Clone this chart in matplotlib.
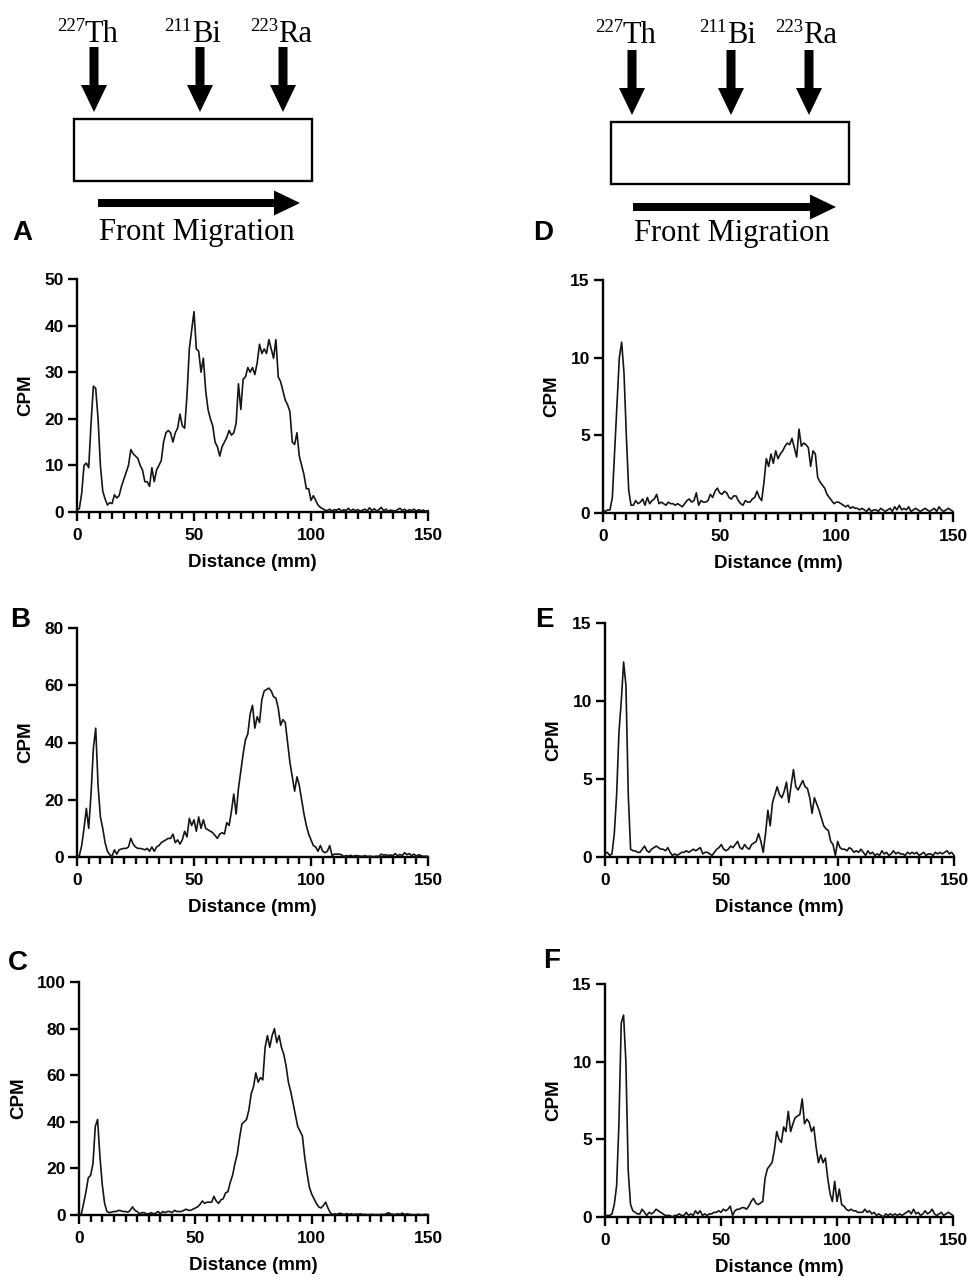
import numpy as np
import matplotlib
matplotlib.use('Agg')
import matplotlib.pyplot as plt
from matplotlib.patches import FancyArrow, Rectangle
from matplotlib.ticker import MultipleLocator

# ---------------- data (CPM vs distance, 1 mm steps, 0..150 mm) ----------------
cpm_A = [0.5, 0.7, 4, 10, 10.5, 9.5, 19, 27, 26.5, 20,
         10, 4.5, 2.8, 1.5, 2, 1.8, 3.7, 3, 3.5, 5.5,
         7, 8.5, 10, 13.4, 12.5, 12, 11.5, 10, 9, 6.5,
         6.5, 5.5, 9.5, 6.5, 9, 10, 11, 15, 17, 17.5,
         17, 15, 17, 18, 21, 18.5, 18, 25, 35, 39,
         43, 35, 34.5, 30, 33, 26, 22, 20, 18.5, 15,
         14, 12, 14, 15, 16, 17.5, 16.5, 17, 19, 27.5,
         22, 28.5, 29, 31, 30, 31, 29.5, 32, 36, 34,
         35, 34, 37, 35, 33, 37, 29, 28, 26, 24,
         23, 21.5, 15, 14.5, 17, 12, 10, 8, 5, 5,
         2.5, 3.5, 2.5, 1.5, 1, 0.7, 0.4, 0.3, 0.6, 0.2,
         0.5, 0.4, 0.7, 0.2, 0.5, 0.3, 0.8, 0.2, 0.6, 0.3,
         0.5, 0.2, 0.4, 0.6, 0.2, 0.9, 0.3, 0.7, 0.2, 0.5,
         1.0, 0.3, 0.6, 0.2, 0.4, 0.3, 0.2, 0.5, 0.8, 0.3,
         0.6, 0.2, 0.5, 0.3, 0.6, 0.2, 0.5, 0.3, 0.4, 0.2, 0.3]

cpm_B = [0, 0.5, 4, 10, 17, 10, 22, 38, 45, 25,
         14, 10, 5, 2, 0.8, 0.3, 2.5, 1, 2.5, 2.8,
         3, 3, 3.5, 6.5, 4.5, 3.5, 3, 3, 2.8, 2.5,
         3, 2, 3.5, 2, 3.5, 4, 5, 5.5, 6, 6.5,
         6.5, 8, 5, 6, 4.5, 6, 9, 7, 13.5, 11,
         13, 9, 14, 10, 13, 10, 9.5, 9, 8.5, 7.5,
         6.5, 8, 8.5, 8, 12, 11, 16, 22, 15, 24,
         30, 36, 41, 43, 50, 53, 45, 49, 47, 55,
         58, 58.5, 59, 58, 56, 55.5, 52, 46, 48, 47,
         40, 33, 28, 23, 28, 25, 20, 15, 11, 8,
         6, 4, 3.5, 2, 4, 2, 1.5, 2, 4, 0.5,
         1, 1, 1, 0.8, 0.2, 0.5, 0.3, 0.6, 0.2, 0.5,
         0.4, 0.3, 0.2, 0.5, 0.2, 0.3, 0.2, 0.1, 0.3, 0.2,
         1, 0.6, 0.8, 0.5, 0.7, 0.5, 1.2, 0.4, 0.9, 0.5,
         1.5, 0.8, 1.2, 0.5, 1, 0.3, 0.8, 0.5, 0.2, 0.3, 0.2]

cpm_C = [0, 0.5, 5, 10, 16, 17, 22, 38, 41, 25,
         13, 5, 1.5, 1, 1.2, 1.5, 1.5, 2, 1.8, 1.5,
         1.5, 1.2, 2, 3.5, 2, 1.5, 0.5, 1, 1, 0.5,
         0.5, 1, 0.5, 0.8, 1.5, 0.5, 1.5, 1, 1.5, 1.5,
         1, 2, 1.5, 1.5, 1.5, 2, 2.5, 2, 2, 2.5,
         3, 3.5, 4.5, 6, 5, 5.5, 5.5, 5.5, 8, 6,
         5, 6.5, 7, 9.5, 10, 14, 17, 22, 26, 33,
         39, 40, 41, 45, 52, 55, 61, 57, 59, 58,
         72, 77, 72, 77, 80, 74, 77, 72, 69, 64,
         57, 53, 48, 43, 38, 36, 34, 25, 18, 12,
         9, 7, 5, 3.5, 3, 4, 5.5, 3, 1, 0.3,
         0.5, 0.3, 0.8, 0.5, 0.2, 0.6, 0.3, 0.5, 0.2, 0.4,
         0.3, 0.5, 0.2, 0.3, 0.1, 0.2, 0.3, 0.1, 0.2, 0.1,
         0.3, 0.2, 0.5, 1.0, 0.4, 0.3, 0.2, 0.5, 0.3, 0.8,
         0.2, 0.5, 0.3, 0.2, 0.1, 0.2, 0.3, 0.1, 0.2, 0.3, 0.2]

cpm_D = [0.2, 0.1, 0.2, 0.2, 1.0, 4, 7, 10, 11, 9,
         5, 1.5, 0.5, 0.5, 0.8, 0.6, 0.7, 0.9, 0.5, 1.0,
         0.6, 0.8, 0.9, 1.2, 0.6, 0.7, 0.6, 0.5, 0.7, 0.6,
         0.6, 0.5, 0.6, 0.5, 0.4, 0.6, 0.8, 0.9, 0.7, 0.8,
         1.3, 0.5, 0.8, 0.7, 0.7, 0.8, 1.2, 1.0, 1.4, 1.6,
         1.3, 1.2, 1.4, 1.3, 1.0, 0.9, 1.1, 1.1, 0.8, 0.6,
         0.5, 0.8, 0.7, 0.7, 0.9, 1.0, 1.4, 1.0, 0.8, 2.0,
         3.5, 3.0, 3.8, 3.2, 4.0, 3.5, 3.8, 4.0, 4.3, 4.5,
         4.4, 4.8, 4.2, 3.6, 5.4, 4.3, 4.5, 4.4, 4.2, 3.0,
         4.0, 3.8, 2.3, 2.0, 1.8, 1.6, 1.2, 1.0, 0.8, 0.6,
         0.7, 0.7, 0.6, 0.5, 0.4, 0.5, 0.3, 0.4, 0.3, 0.3,
         0.2, 0.3, 0.2, 0.1, 0.3, 0.1, 0.2, 0.2, 0.1, 0.3,
         0.2, 0.1, 0.2, 0.3, 0.1, 0.4, 0.2, 0.5, 0.2, 0.3,
         0.2, 0.4, 0.1, 0.2, 0.3, 0.2, 0.1, 0.2, 0.3, 0.2,
         0.1, 0.2, 0.3, 0.1, 0.4, 0.2, 0.1, 0.2, 0.3, 0.2, 0.1]

cpm_E = [0.2, 0.3, 0.1, 0.2, 1.5, 4, 8, 10, 12.5, 11,
         4, 0.5, 0.4, 0.4, 0.3, 0.3, 0.5, 0.7, 0.4, 0.3,
         0.5, 0.6, 0.7, 0.6, 0.5, 0.5, 0.4, 0.6, 0.3, 0.1,
         0.2, 0.1, 0.2, 0.3, 0.3, 0.4, 0.3, 0.4, 0.5, 0.4,
         0.5, 0.6, 0.2, 0.3, 0.3, 0.2, 0.1, 0.3, 0.5, 0.6,
         0.8, 0.5, 0.4, 0.5, 0.7, 0.6, 0.8, 1.0, 0.6, 0.5,
         0.8, 0.6, 0.5, 0.8, 0.9, 1.0, 1.5, 1.0, 0.3, 1.5,
         3.0, 2.0, 3.5, 4.0, 4.5, 4.0, 3.8, 4.2, 4.8, 3.5,
         4.6, 5.6, 4.5, 4.3, 4.6, 4.9, 4.5, 4.4, 3.8, 2.8,
         3.8, 3.4, 3.0, 2.5, 2.0, 1.8, 1.7, 1.0, 0.8, 0.1,
         1.0, 0.6, 0.5, 0.5, 0.4, 0.6, 0.5, 0.3, 0.4, 0.3,
         0.5, 0.3, 0.1, 0.4, 0.2, 0.3, 0.1, 0.2, 0.1, 0.4,
         0.2, 0.3, 0.1, 0.2, 0.4, 0.2, 0.3, 0.2, 0.2, 0.1,
         0.3, 0.2, 0.3, 0.2, 0.3, 0.1, 0.2, 0.3, 0.1, 0.2,
         0.2, 0.1, 0.3, 0.2, 0.3, 0.2, 0.3, 0.4, 0.2, 0.3, 0.1]

cpm_F = [0.1, 0.1, 0.1, 0.2, 0.8, 2, 6, 12.5, 13, 10,
         3, 0.8, 0.4, 0.3, 0.2, 0.2, 0.5, 0.3, 0.1, 0.3,
         0.2, 0.3, 0.5, 0.4, 0.3, 0.2, 0.1, 0.1, 0.1, 0.0,
         0.1, 0.1, 0.2, 0.1, 0.1, 0.3, 0.1, 0.2, 0.1, 0.4,
         0.2, 0.4, 0.1, 0.2, 0.1, 0.2, 0.2, 0.3, 0.3, 0.4,
         0.3, 0.5, 0.4, 0.5, 0.7, 0.1, 0.4, 0.5, 0.5, 0.6,
         0.6, 0.5, 0.7, 1.0, 1.2, 0.9, 0.8, 0.9, 1.0, 2.5,
         3.1, 3.3, 3.5, 4.3, 5.5, 5.0, 4.8, 5.8, 5.5, 6.8,
         5.5, 6.0, 6.4, 6.5, 6.6, 7.6, 6.0, 6.3, 6.1, 5.5,
         5.8, 4.5, 3.5, 4.0, 3.5, 3.8, 2.5, 1.5, 1.0, 2.3,
         1.0, 1.8, 0.8, 0.7, 0.5, 0.4, 0.5, 0.4, 0.4, 0.3,
         0.3, 0.3, 0.5, 0.3, 0.4, 0.2, 0.3, 0.1, 0.2, 0.1,
         0.0, 0.2, 0.1, 0.2, 0.1, 0.2, 0.1, 0.2, 0.1, 0.2,
         0.3, 0.4, 0.2, 0.5, 0.2, 0.3, 0.1, 0.2, 0.4, 0.2,
         0.3, 0.5, 0.2, 0.1, 0.2, 0.3, 0.1, 0.2, 0.3, 0.2, 0.1]

yticks_A = [0, 10, 20, 30, 40, 50]
yticks_B = [0, 20, 40, 60, 80]
yticks_C = [0, 20, 40, 60, 80, 100]
yticks_DEF = [0, 5, 10, 15]
xticks = [0, 50, 100, 150]
panel_letters = ['A', 'B', 'C', 'D', 'E', 'F']
isotopes = [('227', 'Th'), ('211', 'Bi'), ('223', 'Ra')]
x_label = 'Distance (mm)'
y_label = 'CPM'
migration_text = 'Front Migration'

# ---------------- figure ----------------
W, H = 969, 1278
plt.rcParams['font.family'] = ['Liberation Sans', 'DejaVu Sans']
plt.rcParams['font.weight'] = 'bold'
fig = plt.figure(figsize=(W / 100, H / 100), dpi=100)
fig.patch.set_facecolor('white')


def px_axes(x0, y0, x1, y1):
    return fig.add_axes([x0 / W, 1 - y1 / H, (x1 - x0) / W, (y1 - y0) / H])


panels = [
    (cpm_A, yticks_A, (77, 279, 428, 512)),
    (cpm_B, yticks_B, (77, 628, 428, 857)),
    (cpm_C, yticks_C, (79, 982, 428, 1215)),
    (cpm_D, yticks_DEF, (603, 280, 953, 513)),
    (cpm_E, yticks_DEF, (605, 623, 954, 857)),
    (cpm_F, yticks_DEF, (605, 984, 953, 1217)),
]

for vals, yt, box in panels:
    ax = px_axes(*box)
    dist = np.arange(len(vals), dtype=float)
    ax.plot(dist, vals, color='#151515', lw=1.2, clip_on=False, zorder=3)
    ax.set_xlim(0, 150)
    ax.set_ylim(0, yt[-1])
    ax.set_xticks(xticks)
    ax.xaxis.set_minor_locator(MultipleLocator(5))
    ax.set_yticks(yt)
    for s in ['top', 'right']:
        ax.spines[s].set_visible(False)
    for s in ['left', 'bottom']:
        ax.spines[s].set_linewidth(1.7)
    ax.tick_params(which='major', direction='out', length=6.5, width=1.7,
                   labelsize=12.5, color='black')
    ax.tick_params(axis='x', which='minor', direction='out', length=5, width=1.7)
    ax.tick_params(axis='x', which='major', pad=5)
    ax.tick_params(axis='y', which='major', pad=3)
    for lab in ax.get_xticklabels() + ax.get_yticklabels():
        lab.set_fontweight('bold')
    ax.set_xlabel(x_label, fontsize=13.5, fontweight='bold', labelpad=8)
    ax.set_ylabel(y_label, fontsize=13.5, fontweight='bold', labelpad=7)
    ax.patch.set_alpha(0)

# ---------------- overlay for schematics and letters ----------------
ov = fig.add_axes([0, 0, 1, 1])
ov.set_xlim(0, W)
ov.set_ylim(H, 0)
ov.axis('off')
ov.patch.set_alpha(0)

serif = ['Liberation Serif', 'DejaVu Serif']

schematics = [
    dict(arrows=[94, 200, 283], atop=47, atip=112,
         box=(74, 119, 312, 181), front=(98, 300, 203),
         text_x=(99 + 295) / 2, text_y=240,
         labels=[(85, 42), (192, 42), (278, 42)]),
    dict(arrows=[632, 731, 809], atop=50, atip=115,
         box=(611, 122, 849, 184), front=(633, 836, 207),
         text_x=(635 + 828) / 2, text_y=241,
         labels=[(623, 43), (727, 43), (803, 43)]),
]

for sc in schematics:
    for xc in sc['arrows']:
        ov.add_patch(FancyArrow(xc, sc['atop'], 0, sc['atip'] - sc['atop'],
                                width=9, head_width=26, head_length=27,
                                length_includes_head=True, color='black', lw=0))
    x0, y0, x1, y1 = sc['box']
    ov.add_patch(Rectangle((x0, y0), x1 - x0, y1 - y0, fill=False,
                           ec='black', lw=1.7))
    fx0, fx1, fy = sc['front']
    ov.add_patch(FancyArrow(fx0, fy, fx1 - fx0, 0, width=8, head_width=25,
                            head_length=26, length_includes_head=True,
                            color='black', lw=0))
    ov.text(sc['text_x'], sc['text_y'], migration_text, family=serif,
            fontsize=22, fontweight='normal', ha='center', va='baseline')
    for (sup, sym), (lx, ly) in zip(isotopes, sc['labels']):
        ov.text(lx, ly, sym, family=serif, fontsize=22, fontweight='normal',
                ha='left', va='baseline')
        ov.text(lx, ly - 11, sup, family=serif, fontsize=13.5,
                fontweight='normal', ha='right', va='baseline')

letter_pos = [(12, 240), (10, 627), (8, 970), (533, 240), (535, 627), (543, 968)]
for letter, (lx, ly) in zip(panel_letters, letter_pos):
    ov.text(lx, ly, letter, fontsize=20, fontweight='bold', ha='left',
            va='baseline')

fig.savefig('out.png', dpi=100, facecolor='white')
